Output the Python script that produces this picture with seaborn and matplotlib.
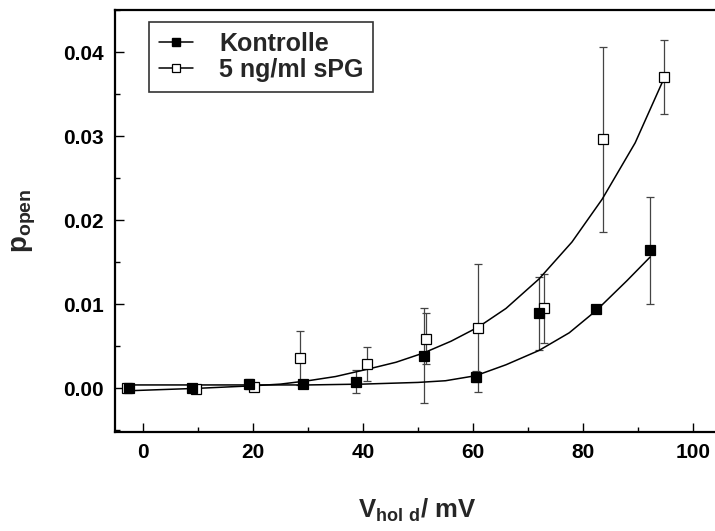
import numpy as np
import pandas as pd
import matplotlib
matplotlib.use('Agg')
import matplotlib.pyplot as plt
import seaborn as sns
from matplotlib.lines import Line2D
from matplotlib.ticker import MultipleLocator, FormatStrFormatter

# 데이터
v_ctrl = [-2.5, 8.8, 19.3, 29.0, 38.8, 51.0, 60.6, 72.0, 82.4, 92.2]
p_ctrl = [0.0000, 0.0000, 0.0005, 0.0005, 0.0008, 0.0039, 0.0014, 0.0089, 0.0094, 0.0164]
e_ctrl = [0.0001, 0.0001, 0.0006, 0.0004, 0.0014, 0.0056, 0.0007, 0.0043, 0.0005, 0.0064]

v_spg = [-3.0, 9.7, 20.2, 28.6, 40.7, 51.4, 61.0, 73.0, 83.6, 94.7]
p_spg = [0.0000, -0.0001, 0.0002, 0.0036, 0.0029, 0.0059, 0.0072, 0.0095, 0.0296, 0.0370]
e_spg = [0.0001, 0.0001, 0.0003, 0.0032, 0.0020, 0.0030, 0.0076, 0.0041, 0.0110, 0.0044]

# 피팅 곡선
fit_ctrl_v = [-2.5, 10, 20, 30, 40, 50, 55, 60.5, 66, 72, 77.5, 82.5, 88, 92.2]
fit_ctrl_p = [0.0004, 0.0004, 0.0004, 0.0004, 0.0005, 0.0007, 0.0009, 0.0015, 0.0028,
              0.0045, 0.0066, 0.0093, 0.0128, 0.0156]
fit_spg_v = [-3, 10, 20, 25, 30, 35, 41, 46, 51, 56, 61, 66, 72, 78, 83.5, 89.5, 94.7]
fit_spg_p = [-0.0003, 0.0000, 0.0003, 0.0005, 0.0009, 0.0014, 0.0023, 0.0031, 0.0042,
             0.0056, 0.0073, 0.0095, 0.0130, 0.0174, 0.0225, 0.0292, 0.0368]

labels = ['Kontrolle', '5 ng/ml sPG']

sns.set_style('ticks')
plt.rcParams['font.family'] = ['Liberation Sans', 'DejaVu Sans']
plt.rcParams['font.weight'] = 'bold'
plt.rcParams['mathtext.fontset'] = 'custom'
plt.rcParams['mathtext.rm'] = 'Liberation Sans:bold'
plt.rcParams['mathtext.bf'] = 'Liberation Sans:bold'

fig = plt.figure(figsize=(7.15, 5.31), dpi=100)
ax = fig.add_axes([0.161, 0.1864, 0.845, 0.7948])

fit_df = pd.concat([
    pd.DataFrame({'V': fit_ctrl_v, 'p': fit_ctrl_p, 'grp': labels[0]}),
    pd.DataFrame({'V': fit_spg_v, 'p': fit_spg_p, 'grp': labels[1]}),
])
sns.lineplot(data=fit_df, x='V', y='p', units='grp', estimator=None, sort=False,
             color='black', linewidth=1.1, ax=ax, zorder=2)

ax.errorbar(v_ctrl, p_ctrl, yerr=e_ctrl, fmt='none', ecolor='#444444',
            elinewidth=0.9, capsize=3, capthick=0.9, zorder=1)
ax.errorbar(v_spg, p_spg, yerr=e_spg, fmt='none', ecolor='#444444',
            elinewidth=0.9, capsize=3, capthick=0.9, zorder=1)

ax.plot(v_spg, p_spg, 's', ms=7.5, mfc='white', mec='black', mew=0.9, zorder=3)
ax.plot(v_ctrl, p_ctrl, 's', ms=7.5, mfc='black', mec='black', mew=0.9, zorder=4)

ax.set_xlim(-5.1, 104.8)
ax.set_ylim(-0.0052, 0.045)
ax.xaxis.set_major_locator(MultipleLocator(20))
ax.xaxis.set_minor_locator(MultipleLocator(10))
ax.yaxis.set_major_locator(MultipleLocator(0.01))
ax.yaxis.set_minor_locator(MultipleLocator(0.005))
ax.yaxis.set_major_formatter(FormatStrFormatter('%.2f'))

ax.tick_params(which='both', direction='in', width=1.0, labelsize=15, colors='black')
ax.tick_params(which='major', length=6.5)
ax.tick_params(which='minor', length=3.5)
ax.tick_params(axis='x', pad=8)
ax.tick_params(axis='y', pad=8)
for lab in ax.get_xticklabels() + ax.get_yticklabels():
    lab.set_fontweight('bold')

for side in ['left', 'bottom', 'top']:
    ax.spines[side].set_linewidth(1.6)
    ax.spines[side].set_color('black')
ax.spines['right'].set_visible(False)

ax.set_xlabel(r'$\mathbf{V}_{\mathbf{hol\ d}}$/ mV', fontsize=18.5, fontweight='bold', labelpad=25)
ax.set_ylabel(r'$\mathbf{p}_{\mathbf{open}}$', fontsize=20, fontweight='bold', labelpad=18)

handles = [
    Line2D([], [], color='black', lw=1.1, marker='s', ms=6, mfc='black', mec='black'),
    Line2D([], [], color='black', lw=1.1, marker='s', ms=6, mfc='white', mec='black', mew=0.9),
]
leg = ax.legend(handles, labels, loc='upper left', bbox_to_anchor=(0.056, 0.972),
                fontsize=18, frameon=True, fancybox=False, edgecolor='black',
                handlelength=1.35, handletextpad=1.05, labelspacing=0.08,
                borderpad=0.4, borderaxespad=0)
leg.get_frame().set_linewidth(1.2)
for t in leg.get_texts():
    t.set_fontweight('bold')

plt.savefig('out.png', dpi=100)
plt.close()
